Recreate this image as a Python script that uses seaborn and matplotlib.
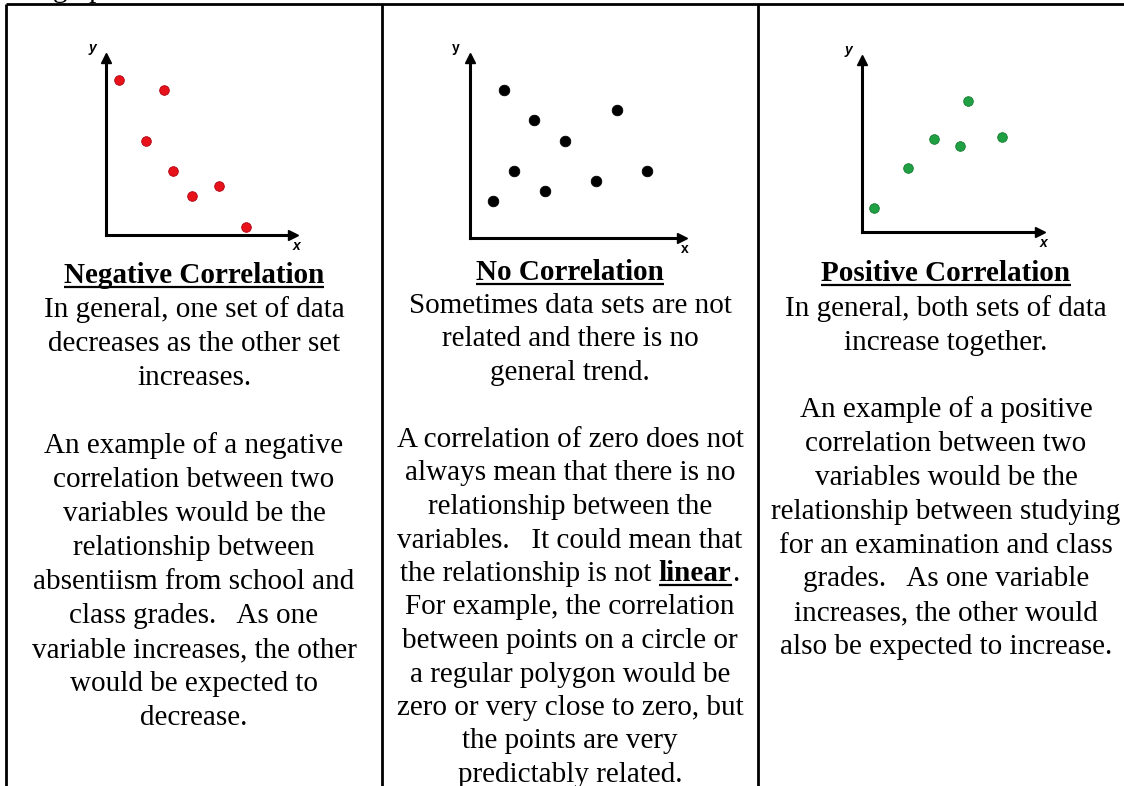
import matplotlib
matplotlib.use("Agg")
import matplotlib.pyplot as plt
import seaborn as sns

sns.set_style("white")
plt.rcParams["font.family"] = ["Liberation Serif", "DejaVu Serif"]
plt.rcParams["text.color"] = "black"

# points of the three little scatter sketches (axis length = 10 units)
neg_x = [0.68, 3.10, 2.12, 3.60, 4.58, 6.03, 7.47]
neg_y = [8.76, 8.19, 5.33, 3.63, 2.20, 2.75, 0.47]

none_x = [1.60, 3.03, 4.48, 6.92, 2.09, 8.33, 5.94, 3.54, 1.10]
none_y = [8.22, 6.56, 5.41, 7.11, 3.72, 3.72, 3.17, 2.61, 2.06]

pos_x = [0.67, 2.61, 4.04, 5.51, 5.98, 7.89]
pos_y = [1.41, 3.70, 5.39, 5.00, 7.63, 5.54]

titles = ["Negative Correlation", "No Correlation", "Positive Correlation"]

neg_text = ["In general, one set of data", "decreases as the other set", "increases.", "",
            "An example of a negative", "correlation between two", "variables would be the",
            "relationship between", "absentiism from school and", "class grades.   As one",
            "variable increases, the other", "would be expected to", "decrease."]
none_text = ["Sometimes data sets are not", "related and there is no", "general trend.", "",
             "A correlation of zero does not", "always mean that there is no",
             "relationship between the", "variables.   It could mean that",
             "the relationship is not linear.", "For example, the correlation",
             "between points on a circle or", "a regular polygon would be",
             "zero or very close to zero, but", "the points are very", "predictably related."]
pos_text = ["In general, both sets of data", "increase together.", "",
            "An example of a positive", "correlation between two", "variables would be the",
            "relationship between studying", "for an examination and class",
            "grades.   As one variable", "increases, the other would",
            "also be expected to increase."]

W, H = 1124, 786
fig = plt.figure(figsize=(W / 100, H / 100), dpi=100)
bg = fig.add_axes([0, 0, 1, 1])
bg.set_xlim(0, W)
bg.set_ylim(H, 0)
bg.axis("off")

FS = 21

# cut off line of the page above the table
bg.text(53, -3, "graphs", fontsize=FS, va="baseline", ha="left")

# table borders
lw = 2.0
bg.plot([6, W], [4, 4], color="black", lw=lw, solid_capstyle="butt")
for xv in [6, 382, 758]:
    bg.plot([xv, xv], [4, H], color="black", lw=lw, solid_capstyle="butt")

# scatter sketches
panels = [
    (neg_x, neg_y, "#e8121b", "#b00010", 48, (106, 235, 293, 58), True),
    (none_x, none_y, "black", "black", 58, (470, 238, 682, 58), False),
    (pos_x, pos_y, "#1fa043", "#137a30", 48, (862, 232, 1040, 60), True),
]
for px, py, col, ec, size, (x0, y0, x1, y1), ital in panels:
    ax = fig.add_axes([x0 / W, 1 - y0 / H, (x1 - x0) / W, (y0 - y1) / H])
    sns.scatterplot(x=px, y=py, ax=ax, color=col, edgecolor=ec, linewidth=0.6, s=size, zorder=3)
    ax.set_xlim(0, 10)
    ax.set_ylim(0, 10)
    ax.set_xticks([])
    ax.set_yticks([])
    ax.patch.set_alpha(0)
    for s in ["top", "right"]:
        ax.spines[s].set_visible(False)
    for s in ["left", "bottom"]:
        ax.spines[s].set_linewidth(2.2)
        ax.spines[s].set_color("black")
    ax.plot(1, 0, ">k", transform=ax.transAxes, clip_on=False, markersize=6.5)
    ax.plot(0, 1, "^k", transform=ax.transAxes, clip_on=False, markersize=6.5)
    style = "italic" if ital else "normal"
    bg.text(x0 - 14, y1 - 10, "y", fontsize=10, fontweight="bold", style=style,
            family=["Liberation Sans"], ha="center", va="center")
    bg.text(x1 + 3, y0 + 11, "x", fontsize=10, fontweight="bold", style=style,
            family=["Liberation Sans"], ha="center", va="center")

fig.canvas.draw()
renderer = fig.canvas.get_renderer()
inv = bg.transData.inverted()


def underline(t, base):
    bb = t.get_window_extent(renderer)
    (xa, _), (xb, _) = inv.transform([(bb.x0, 0), (bb.x1, 0)])
    bg.plot([xa, xb], [base + 4, base + 4], color="black", lw=1.6, solid_capstyle="butt")


cols = [
    (194, 283, 317, 34.0, neg_text),
    (570, 280, 313, 33.5, none_text),
    (946, 281, 316, 33.8, pos_text),
]
for (cx, tb, start, step, lines), title in zip(cols, titles):
    t = bg.text(cx, tb, title, fontsize=FS, fontweight="bold", ha="center", va="baseline")
    underline(t, tb)
    for i, line in enumerate(lines):
        if not line:
            continue
        yb = start + i * step
        if "linear." in line:
            pre = "the relationship is not"
            tp = bg.text(0, yb, pre, fontsize=FS, va="baseline")
            tl = bg.text(0, yb, "linear", fontsize=FS, fontweight="bold", va="baseline")
            td = bg.text(0, yb, ".", fontsize=FS, va="baseline")
            wp = tp.get_window_extent(renderer).width
            wl = tl.get_window_extent(renderer).width
            wd = td.get_window_extent(renderer).width
            sp = 0.25 * FS * 100 / 72
            total = wp + sp + wl + wd + 1
            left = cx - total / 2
            tp.set_x(left)
            tl.set_x(left + wp + sp)
            td.set_x(left + wp + sp + wl + 1)
            underline(tl, yb)
        else:
            bg.text(cx, yb, line, fontsize=FS, ha="center", va="baseline")

fig.savefig("out.png", dpi=100)
